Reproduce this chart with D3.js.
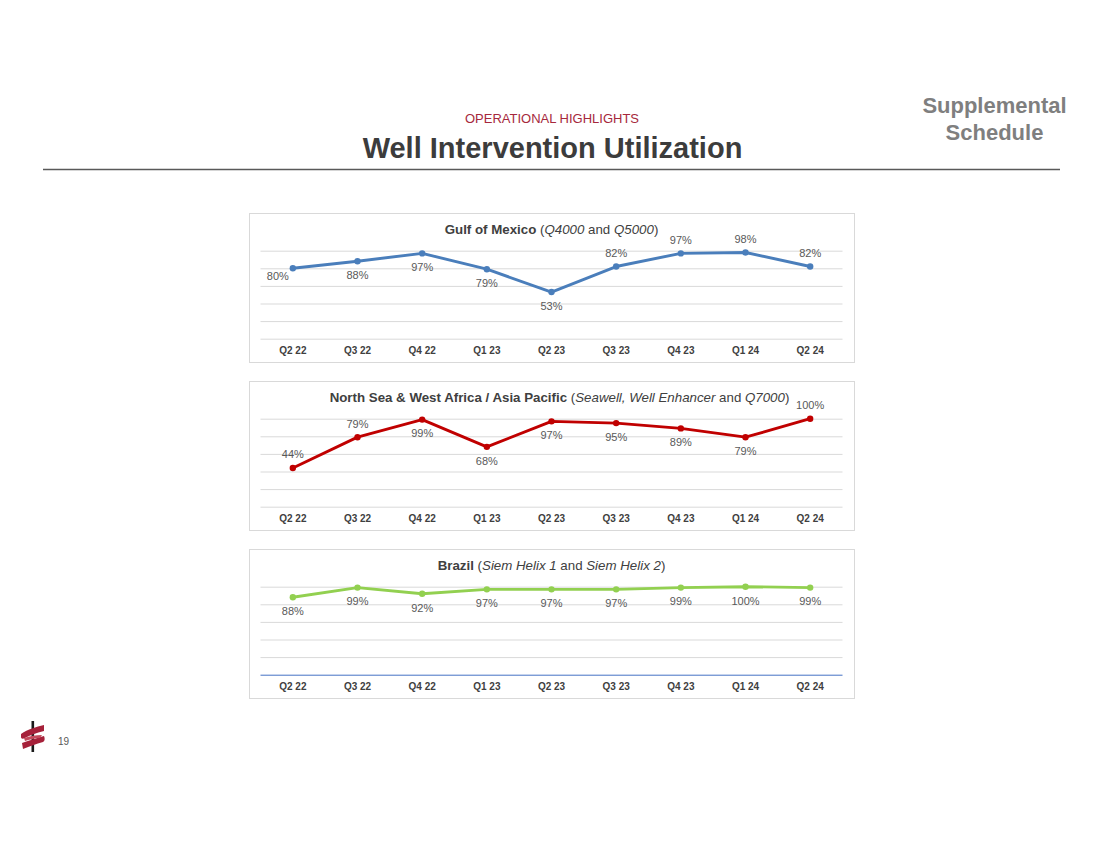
<!DOCTYPE html>
<html>
<head>
<meta charset="utf-8">
<title>Well Intervention Utilization</title>
<script src="https://cdn.jsdelivr.net/npm/d3@7"></script>
<style>
  body { margin: 0; background: #ffffff; font-family: "Liberation Sans", Arial, sans-serif; }
  .tick-label { font-size: 10px; font-weight: bold; fill: #404040; }
  .data-label { font-size: 11px; fill: #595959; }
  .panel-title { font-size: 13.3px; fill: #404040; }
</style>
</head>
<body>
<div id="chart"></div>
<script>
// ========== DATA ==========
const quarters = ["Q2 22", "Q3 22", "Q4 22", "Q1 23", "Q2 23", "Q3 23", "Q4 23", "Q1 24", "Q2 24"];
const gulfValues = [80, 88, 97, 79, 53, 82, 97, 98, 82];
const northSeaValues = [44, 79, 99, 68, 97, 95, 89, 79, 100];
const brazilValues = [88, 99, 92, 97, 97, 97, 99, 100, 99];
const gridTicks = [0, 20, 40, 60, 80, 100];

// where Excel put each data label relative to its point
const gulfLabelSide = ["left", "below", "below", "below", "below", "above", "above", "above", "above"];
const northSeaLabelSide = ["above", "above", "below", "below", "below", "below", "below", "below", "above"];
const brazilLabelSide = ["below", "below", "below", "below", "below", "below", "below", "below", "below"];

// title pieces: [text, style]  b = bold, i = italic, n = normal
const gulfTitle = [["Gulf of Mexico", "b"], [" (", "n"], ["Q4000", "i"], [" and ", "n"], ["Q5000", "i"], [")", "n"]];
const northSeaTitle = [["North Sea & West Africa / Asia Pacific", "b"], [" (", "n"], ["Seawell, Well Enhancer", "i"],
    [" and ", "n"], ["Q7000", "i"], [")", "n"]];
const brazilTitle = [["Brazil", "b"], [" (", "n"], ["Siem Helix 1", "i"], [" and ", "n"], ["Siem Helix 2", "i"], [")", "n"]];

// ========== LAYOUT ==========
const width = 1100;
const height = 849;
const boxLeft = 249, boxWidth = 605, boxHeight = 149;
const panelStep = 168;
const firstBoxTop = 213;
const plotLeft = 260.5, plotRight = 842.5;

const panels = [
    { title: gulfTitle, titleDx: 0, values: gulfValues, sides: gulfLabelSide, color: "#4a7ebb", baseColor: "#d9d9d9" },
    { title: northSeaTitle, titleDx: 8, values: northSeaValues, sides: northSeaLabelSide, color: "#c00000", baseColor: "#d9d9d9" },
    { title: brazilTitle, titleDx: 0, values: brazilValues, sides: brazilLabelSide, color: "#92d050", baseColor: "#4472c4" }
];

const labelOffset = {
    above: { dx: 0, dy: -13.5 },
    below: { dx: 0, dy: 14 },
    left: { dx: -15, dy: 8 }
};

const svg = d3.select("#chart")
    .append("svg")
    .attr("width", width)
    .attr("height", height);

// ========== HEADER ==========
svg.append("text")
    .text("OPERATIONAL HIGHLIGHTS")
    .attr("x", 552)
    .attr("y", 122.5)
    .attr("text-anchor", "middle")
    .style("font-size", "13px")
    .style("fill", "#a6283c");

svg.append("text")
    .text("Well Intervention Utilization")
    .attr("x", 552.5)
    .attr("y", 158.3)
    .attr("text-anchor", "middle")
    .style("font-size", "29px")
    .style("font-weight", "bold")
    .style("fill", "#3c3c3c");

svg.append("line")
    .attr("x1", 43).attr("x2", 1060)
    .attr("y1", 169.5).attr("y2", 169.5)
    .attr("stroke", "#595959")
    .attr("stroke-width", 1.3);

["Supplemental", "Schedule"].forEach((t, i) => {
    svg.append("text")
        .text(t)
        .attr("x", 994.5)
        .attr("y", 113.3 + i * 27)
        .attr("text-anchor", "middle")
        .style("font-size", "22px")
        .style("font-weight", "bold")
        .style("fill", "#7f7f7f");
});

// ========== SCALES ==========
const xScale = d3.scaleBand()
    .domain(quarters)
    .range([plotLeft, plotRight]);
const xCenter = d => xScale(d) + xScale.bandwidth() / 2;

// ========== PANELS ==========
const drawPanel = (panel, i) => {
    const top = firstBoxTop + i * panelStep;

    const yScale = d3.scaleLinear()
        .domain([0, 100])
        .range([top + 125.7, top + 37.7]);

    const g = svg.append("g");

    // frame
    g.append("rect")
        .attr("x", boxLeft + 0.5)
        .attr("y", top + 0.5)
        .attr("width", boxWidth)
        .attr("height", boxHeight)
        .attr("fill", "#ffffff")
        .attr("stroke", "#d9d9d9")
        .attr("stroke-width", 1);

    // gridlines
    const grid = g.append("g")
        .attr("transform", `translate(${plotLeft}, 0)`)
        .call(d3.axisLeft(yScale)
            .tickValues(gridTicks)
            .tickSize(-(plotRight - plotLeft))
            .tickFormat(""));
    grid.select(".domain").remove();
    grid.selectAll(".tick line")
        .attr("stroke", d => d === 0 ? panel.baseColor : "#d9d9d9")
        .attr("stroke-width", 1);

    // category axis
    const xAxis = g.append("g")
        .attr("transform", `translate(0, ${yScale(0)})`)
        .call(d3.axisBottom(xScale).tickSize(0).tickPadding(8.5));
    xAxis.select(".domain").remove();
    xAxis.selectAll("text")
        .attr("class", "tick-label")
        .attr("font-family", null)
        .attr("font-size", null)
        .attr("fill", null);

    // title
    const title = g.append("text")
        .attr("class", "panel-title")
        .attr("x", (plotLeft + plotRight) / 2 + panel.titleDx)
        .attr("y", top + 20.5)
        .attr("text-anchor", "middle");
    title.selectAll("tspan")
        .data(panel.title)
        .join("tspan")
        .text(d => d[0])
        .style("font-weight", d => d[1] === "b" ? "bold" : "normal")
        .style("font-style", d => d[1] === "i" ? "italic" : "normal");

    // series line
    const pts = quarters.map((q, k) => ({ q, v: panel.values[k], side: panel.sides[k] }));
    const line = d3.line()
        .x(d => xCenter(d.q))
        .y(d => yScale(d.v));

    g.append("path")
        .datum(pts)
        .attr("d", line)
        .attr("fill", "none")
        .attr("stroke", panel.color)
        .attr("stroke-width", 2.9)
        .attr("stroke-linejoin", "round");

    g.selectAll("circle")
        .data(pts)
        .join("circle")
        .attr("cx", d => xCenter(d.q))
        .attr("cy", d => yScale(d.v))
        .attr("r", 3.2)
        .attr("fill", panel.color);

    // data labels
    g.selectAll(".data-label")
        .data(pts)
        .join("text")
        .attr("class", "data-label")
        .attr("x", d => xCenter(d.q) + labelOffset[d.side].dx)
        .attr("y", d => yScale(d.v) + labelOffset[d.side].dy)
        .attr("dy", "0.35em")
        .attr("text-anchor", "middle")
        .text(d => `${d.v}%`);
};

panels.forEach(drawPanel);

// ========== FOOTER: LOGO + PAGE NUMBER ==========
const logo = svg.append("g");
logo.append("rect").attr("x", 31.5).attr("y", 721).attr("width", 2.6).attr("height", 31).attr("fill", "#1a1a1a");
logo.append("path")
    .attr("d", "M21,734 C28,729 36,727 44,725 L44,731 C36,733 30,735 25,738 C23,739 21,739 21,737 Z")
    .attr("fill", "#a6213a");
logo.append("path")
    .attr("d", "M22,743 C30,740 37,738 44,736 C45,738 45,741 43,742 C36,744 30,746 23,749 Z")
    .attr("fill", "#a6213a");
logo.append("path")
    .attr("d", "M24,738 C30,736 36,735 42,735 L40,738 C34,738 29,740 25,741 Z")
    .attr("fill", "#c44a5c");

svg.append("text")
    .text("19")
    .attr("x", 58)
    .attr("y", 744.5)
    .style("font-size", "10px")
    .style("fill", "#595959");

console.log("✓ Utilization charts rendered");
</script>
</body>
</html>
